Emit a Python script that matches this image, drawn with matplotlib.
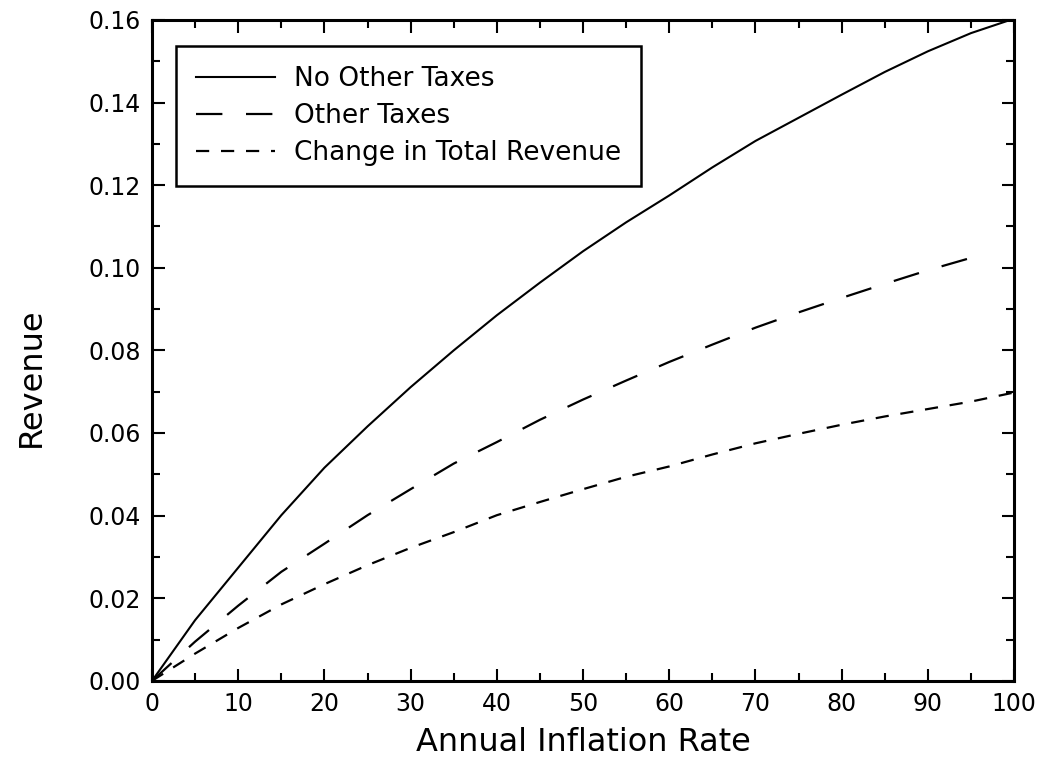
import matplotlib
matplotlib.use("Agg")
import matplotlib.pyplot as plt
from matplotlib.ticker import MultipleLocator, FormatStrFormatter

# === Data ===
inflation = [0, 5, 10, 15, 20, 25, 30, 35, 40, 45, 50,
             55, 60, 65, 70, 75, 80, 85, 90, 95, 100]
no_other_taxes = [0, 0.0147, 0.0274, 0.0401, 0.0516, 0.0616, 0.0711, 0.0800, 0.0885, 0.0964, 0.1040,
                  0.1110, 0.1175, 0.1243, 0.1307, 0.1363, 0.1419, 0.1474, 0.1524, 0.1568, 0.1603]

inflation_other = [0, 5, 10, 15, 20, 25, 30, 35, 40, 45, 50,
                   55, 60, 65, 70, 75, 80, 85, 90, 95, 97]
other_taxes = [0, 0.0095, 0.0182, 0.0264, 0.0332, 0.0401, 0.0464, 0.0526, 0.0578, 0.0632, 0.0681,
               0.0727, 0.0772, 0.0814, 0.0855, 0.0892, 0.0927, 0.0961, 0.0994, 0.1024, 0.1035]

change_total = [0, 0.0066, 0.0128, 0.0185, 0.0234, 0.0280, 0.0322, 0.0360, 0.0401, 0.0433, 0.0464,
                0.0494, 0.0519, 0.0548, 0.0575, 0.0598, 0.0620, 0.0640, 0.0658, 0.0676, 0.0698]

plt.rcParams['font.family'] = ['DejaVu Sans']
plt.rcParams['lines.scale_dashes'] = False

fig = plt.figure(figsize=(10.52, 7.65), dpi=100)
ax = fig.add_axes([0.1445, 0.11, 0.8195, 0.864])

ax.plot(inflation, no_other_taxes, color='black', lw=1.5, label='No Other Taxes')
ax.plot(inflation_other, other_taxes, color='black', lw=1.6, dashes=(19, 17), label='Other Taxes')
ax.plot(inflation, change_total, color='black', lw=1.6, dashes=(9.5, 8.5), label='Change in Total Revenue')

ax.set_xlim(0, 100)
ax.set_ylim(0, 0.16)
ax.xaxis.set_major_locator(MultipleLocator(10))
ax.xaxis.set_minor_locator(MultipleLocator(5))
ax.yaxis.set_major_locator(MultipleLocator(0.02))
ax.yaxis.set_minor_locator(MultipleLocator(0.01))
ax.yaxis.set_major_formatter(FormatStrFormatter('%.2f'))

ax.tick_params(which='both', direction='in', top=True, right=True, width=1.5, labelsize=17)
ax.tick_params(which='major', length=9, pad=8)
ax.tick_params(which='minor', length=6)
for s in ax.spines.values():
    s.set_linewidth(2.2)

ax.set_xlabel('Annual Inflation Rate', fontsize=23, labelpad=8)
ax.set_ylabel('Revenue', fontsize=23)
ax.yaxis.set_label_coords(-0.122, 0.46)

leg = ax.legend(loc='upper left', bbox_to_anchor=(0.028, 0.96), fontsize=19,
                fancybox=False, framealpha=1, edgecolor='black',
                handlelength=3.0, handletextpad=0.7, borderpad=0.75,
                labelspacing=0.42, borderaxespad=0)
leg.get_frame().set_linewidth(1.8)

fig.savefig('out.png', dpi=100)
